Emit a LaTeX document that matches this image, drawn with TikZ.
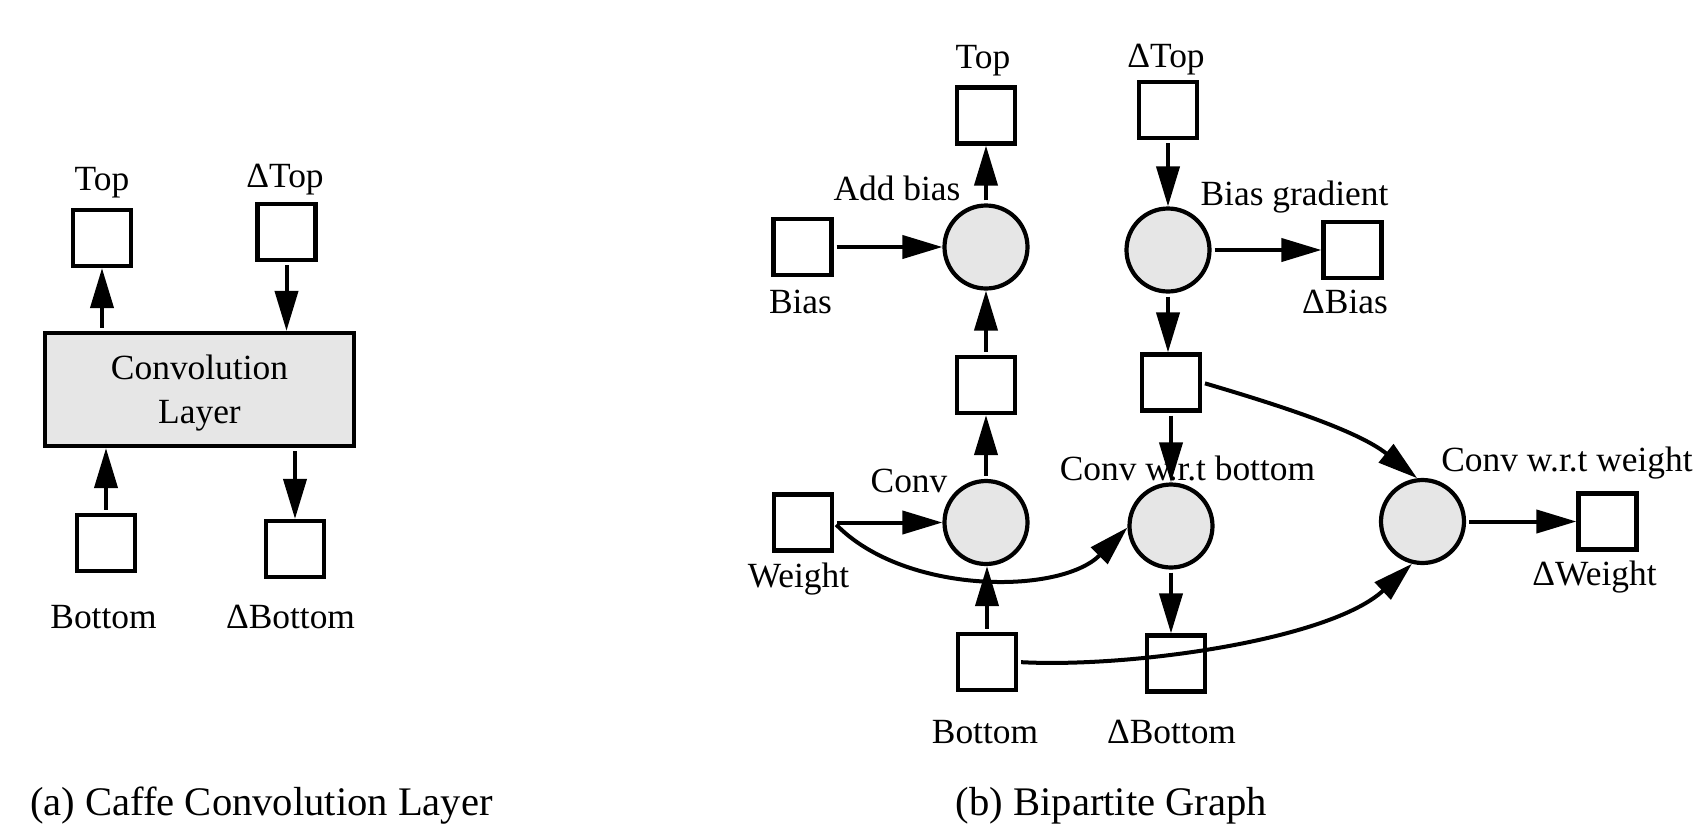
\documentclass[tikz,border=0pt]{standalone}
\usepackage{fontspec}
\setmainfont{Liberation Serif}
\usetikzlibrary{arrows.meta}
\definecolor{nodegray}{HTML}{E6E6E6}
\tikzset{
  box/.style={draw, line width=2.1pt, fill=white, minimum width=29pt, minimum height=28pt, inner sep=0pt},
  opnode/.style={draw, circle, line width=2.1pt, fill=nodegray, minimum size=41.5pt, inner sep=0pt},
  layerbox/.style={draw, line width=2.1pt, fill=nodegray, minimum width=154.5pt, minimum height=56.5pt, inner sep=0pt, align=center, font=\fontsize{17.7pt}{22pt}\selectfont, text depth=0pt},
  lbl/.style={anchor=base, inner sep=0pt, font=\fontsize{17.7pt}{22pt}\selectfont},
  captext/.style={anchor=base, inner sep=0pt, font=\fontsize{20.3pt}{24pt}\selectfont},
  arr/.style={line width=2pt, -{Triangle[length=20pt, width=11.5pt]}, shorten <=1.5pt},
}
\begin{document}
\begin{tikzpicture}[x=0.5pt, y=-0.5pt]
\useasboundingbox (0,0) rectangle (1694,826);
% ---------- (a) ----------
\node[layerbox] (layer) at (199.5,389.5) {Convolution\\Layer};
\node[box] (atop) at (102,238) {};
\node[box] (adtop) at (286.5,232) {};
\node[box] (abot) at (106,543) {};
\node[box] (adbot) at (295,549) {};
\node[lbl] (latop) at (102,190) {Top};
\node[lbl] (ladtop) at (285,187) {ΔTop};
\node[lbl] (labot) at (103.5,628) {Bottom};
\node[lbl] (ladbot) at (290.5,628) {ΔBottom};
\draw[arr] (atop.south |- layer.north) -- (atop.south);
\draw[arr] (adtop.south) -- (adtop.south |- layer.north);
\draw[arr] (abot.north) -- (abot.north |- layer.south);
\draw[arr] (adbot.north |- layer.south) -- (adbot.north);
\node[captext] (capa) at (261.5,815) {(a) Caffe Convolution Layer};
% ---------- (b) ----------
\node[opnode] (addb) at (986,247) {};
\node[opnode] (biasg) at (1168,250) {};
\node[opnode] (conv) at (986,522.5) {};
\node[opnode] (cwb) at (1171,526) {};
\node[opnode] (cww) at (1422.5,521.5) {};
\node[box] (btop) at (986,115.5) {};
\node[box] (bdtop) at (1168,110) {};
\node[box] (bias) at (802.5,247) {};
\node[box] (dbias) at (1352.5,250) {};
\node[box] (ml) at (986,385) {};
\node[box] (mr) at (1171,382.5) {};
\node[box] (weight) at (803,522.5) {};
\node[box] (bbot) at (987,662) {};
\node[box] (bdbot) at (1176,663.5) {};
\node[box] (dweight) at (1607.5,521.5) {};
\node[lbl] (lbtop) at (983,68) {Top};
\node[lbl] (lbdtop) at (1166,67) {ΔTop};
\node[lbl] (laddb) at (897,200) {Add bias};
\node[lbl] (lbias) at (800.5,313) {Bias};
\node[lbl] (lbiasg) at (1294.5,205) {Bias gradient};
\node[lbl] (ldbias) at (1345,313) {ΔBias};
\node[lbl] (lconv) at (909,492) {Conv};
\node[lbl] (lcwb) at (1187.5,480) {Conv w.r.t bottom};
\node[lbl] (lcww) at (1567,471) {Conv w.r.t weight};
\node[lbl] (lweight) at (798.5,587) {Weight};
\node[lbl] (ldweight) at (1594.5,585) {ΔWeight};
\node[lbl] (lbbot) at (985,743) {Bottom};
\node[lbl] (lbdbot) at (1171.5,743) {ΔBottom};
\draw[arr] (bias) -- (addb);
\draw[arr] (ml) -- (addb);
\draw[arr] (addb) -- (btop);
\draw[arr] (bdtop) -- (biasg);
\draw[arr] (biasg) -- (dbias);
\draw[arr] (biasg) -- (biasg.south |- mr.north);
\draw[arr] (mr.south) -- (mr.south |- cwb.north);
\draw[arr] (conv) -- (ml);
\draw[arr] (weight) -- (conv);
\draw[arr] (bbot.north) -- (bbot.north |- conv.south);
\draw[arr] (cwb.south) -- (cwb.south |- bdbot.north);
\draw[arr] (cww) -- (dweight);
\draw[arr] (mr.east) .. controls (1275,404) and (1357,430) .. (cww.97);
\draw[arr] (weight.east) .. controls (905,595) and (1060,595) .. (cwb.182);
\draw[arr] (bbot.east) .. controls (1130,668) and (1330,640) .. (cww.256);
\node[captext] (capb) at (1111.5,815) {(b) Bipartite Graph};
\end{tikzpicture}
\end{document}
